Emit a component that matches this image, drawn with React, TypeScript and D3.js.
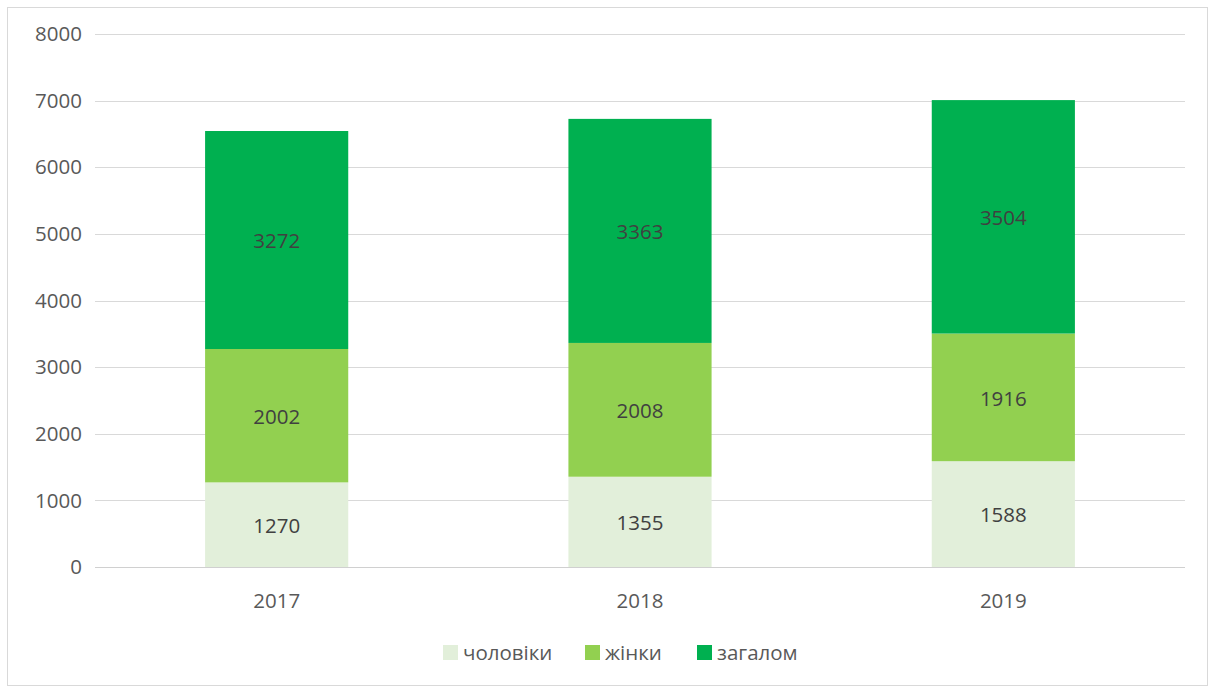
import React from "react";
import * as d3 from "d3";

const years = ["2017", "2018", "2019"];
const seriesNames = ["чоловіки", "жінки", "загалом"];
const men = [1270, 1355, 1588];
const women = [2002, 2008, 1916];
const total = [3272, 3363, 3504];
const yTicks = [0, 1000, 2000, 3000, 4000, 5000, 6000, 7000, 8000];
const colors = ["#E2EFDA", "#92D050", "#00B050"];

const W = 1213;
const H = 687;
const left = 95;
const right = 1185;
const top = 34;
const bottom = 567;

export default function App() {
  const x = d3.scaleBand<string>().domain(years).range([left, right]).paddingInner(0.606).paddingOuter(0.303);
  const y = d3.scaleLinear().domain([0, 8000]).range([bottom, top]);
  const rows = years.map((yr, i) => ({ year: yr, s0: men[i], s1: women[i], s2: total[i] }));
  const stack = d3.stack<any>().keys(["s0", "s1", "s2"]);
  const stacked = stack(rows);
  const font = "'Open Sans', 'DejaVu Sans', sans-serif";
  const fs = 20.5;
  const legendItems = [
    { x: 443, label: seriesNames[0], color: colors[0] },
    { x: 585, label: seriesNames[1], color: colors[1] },
    { x: 697, label: seriesNames[2], color: colors[2] },
  ];
  return (
    <div style={{ position: "absolute", left: 0, top: 0 }}>
      <svg width={W} height={H} style={{ display: "block", background: "#fff" }}>
        <rect x={7.5} y={7.5} width={1200} height={678} fill="#fff" stroke="#D9D9D9" strokeWidth={1} />
        {yTicks.map((t) => (
          <g key={t}>
            <line x1={left} x2={right} y1={Math.round(y(t)) + 0.5} y2={Math.round(y(t)) + 0.5} stroke={t === 0 ? "#D0D0D0" : "#D9D9D9"} strokeWidth={1} />
            <text x={82} y={y(t)} dy="0.35em" textAnchor="end" fontFamily={font} fontSize={fs} fill="#595959">
              {t}
            </text>
          </g>
        ))}
        {stacked.map((layer, li) => (
          <g key={li}>
            {layer.map((d: any, i: number) => {
              const x0 = x(years[i])!;
              const y0 = y(d[1]);
              const h = y(d[0]) - y(d[1]);
              return (
                <g key={i}>
                  <rect x={x0} y={y0} width={x.bandwidth()} height={h} fill={colors[li]} />
                  <text
                    x={x0 + x.bandwidth() / 2}
                    y={y0 + h / 2 + 1}
                    dy="0.35em"
                    textAnchor="middle"
                    fontFamily={font}
                    fontSize={fs}
                    fill="#404040"
                  >
                    {d[1] - d[0]}
                  </text>
                </g>
              );
            })}
          </g>
        ))}
        {years.map((yr) => (
          <text key={yr} x={x(yr)! + x.bandwidth() / 2} y={601} dy="0.35em" textAnchor="middle" fontFamily={font} fontSize={fs} fill="#595959">
            {yr}
          </text>
        ))}
        {legendItems.map((it) => (
          <g key={it.label}>
            <rect x={it.x} y={645} width={15} height={15} fill={it.color} />
            <text x={it.x + 20} y={653} dy="0.35em" fontFamily={font} fontSize={fs} fill="#595959">
              {it.label}
            </text>
          </g>
        ))}
      </svg>
    </div>
  );
}
